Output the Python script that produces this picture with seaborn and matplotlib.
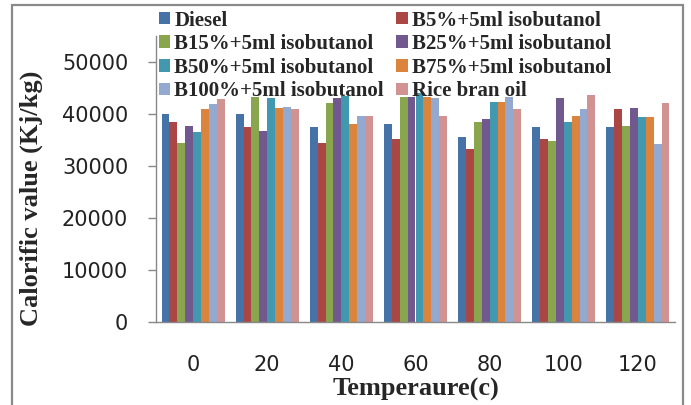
import numpy as np
import pandas as pd
import seaborn as sns
import matplotlib.pyplot as plt
from matplotlib.patches import Rectangle

temps = ["0", "20", "40", "60", "80", "100", "120"]
series = ["Diesel", "B5%+5ml isobutanol", "B15%+5ml isobutanol", "B25%+5ml isobutanol",
          "B50%+5ml isobutanol", "B75%+5ml isobutanol", "B100%+5ml isobutanol", "Rice bran oil"]
diesel = [40000, 40000, 37500, 38000, 35500, 37500, 37500]
b5 = [38500, 37500, 34500, 35200, 33200, 35200, 40900]
b15 = [34500, 43300, 42100, 43300, 38400, 34900, 37700]
b25 = [37700, 36700, 43100, 43300, 39000, 43100, 41100]
b50 = [36500, 43100, 43400, 44100, 42400, 38400, 39400]
b75 = [40900, 41200, 38000, 43300, 42400, 39700, 39400]
b100 = [41900, 41400, 39700, 43100, 43300, 40900, 34200]
rice = [42800, 40900, 39700, 39700, 40900, 43600, 42100]
colors = ["#4572A7", "#AA4643", "#89A54E", "#71588F", "#4198AF", "#DB843D", "#93A9CF", "#D19392"]

values = [diesel, b5, b15, b25, b50, b75, b100, rice]
rows = []
for s, vals in zip(series, values):
    for t, v in zip(temps, vals):
        rows.append({"Temperature": t, "Series": s, "Value": v})
df = pd.DataFrame(rows)

sns.set_style("white")
plt.rcParams['font.family'] = ['DejaVu Sans']

fig = plt.figure(figsize=(6.91, 4.05), dpi=100)
ax = fig.add_axes([156/691, 1-322/405, (675-156)/691, (322-36)/405])
sns.barplot(data=df, x="Temperature", y="Value", hue="Series", order=temps,
            hue_order=series, palette=colors, width=0.85, ax=ax, linewidth=0,
            saturation=1, errorbar=None, legend=True)

ax.set_ylim(0, 55000)
ax.set_yticks([0, 10000, 20000, 30000, 40000, 50000])
ax.set_yticklabels(["0", "10000", "20000", "30000", "40000", "50000"], fontsize=15, color="#222222")
ax.set_xlim(-0.5, 6.5)
ax.set_xticks(range(len(temps)))
ax.set_xticklabels(temps, fontsize=15, color="#222222")
ax.set_xticks(np.arange(-0.5, 7.0, 1.0), minor=True)
ax.tick_params(axis="x", which="major", length=0, pad=24)
ax.tick_params(axis="x", which="minor", length=7, width=1, color="#888888", direction="out")
ax.tick_params(axis="y", length=6, width=1, color="#888888", direction="out", left=True, pad=14)
for sp in ["top", "right"]:
    ax.spines[sp].set_visible(False)
for sp in ["left", "bottom"]:
    ax.spines[sp].set_color("#888888")
    ax.spines[sp].set_linewidth(1)

serif = ['Liberation Serif', 'DejaVu Serif']
ax.set_xlabel("Temperaure(c)", fontsize=19, fontweight="bold", family=serif, labelpad=2)
ax.set_ylabel("Calorific value (Kj/kg)", fontsize=19, fontweight="bold", family=serif)
ax.yaxis.set_label_coords((43-156)/519, (322-198)/286)

handles, labels = ax.get_legend_handles_labels()
ax.get_legend().remove()
order = [0, 2, 4, 6, 1, 3, 5, 7]
fig.legend([handles[i] for i in order], [labels[i] for i in order], ncol=2,
           loc="upper left", bbox_to_anchor=(144/691, 1+4/405), frameon=False,
           prop={"family": serif, "weight": "bold", "size": 15},
           handlelength=0.55, handleheight=0.55, handletextpad=0.2,
           columnspacing=0.6, labelspacing=0.17, borderpad=0.2)

fig.add_artist(Rectangle((12/691, -0.02), (683-12)/691, 1-5/405+0.02, transform=fig.transFigure,
                         fill=False, edgecolor="#8a8a8a", linewidth=1.6))

fig.savefig("out.png", dpi=100)
